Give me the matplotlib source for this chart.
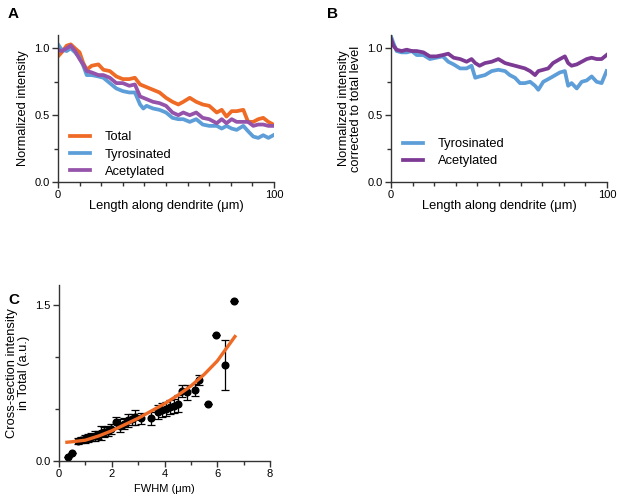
import numpy as np
import matplotlib
matplotlib.use("Agg")
import matplotlib.pyplot as plt
from matplotlib.ticker import MultipleLocator

plt.rcParams['font.family'] = ['Liberation Sans', 'DejaVu Sans']

# panel A: normalized intensity along dendrite
a_x = [0, 1.7, 4, 5.9, 7.9, 10, 11.7, 13.3, 15.6, 18.7, 21, 24, 27, 30, 33, 35.6, 38, 39.5, 41, 44,
       47, 50, 53, 55.7, 58, 61, 64, 67, 70, 73.5, 75.8, 78, 80.4, 82.7, 85.8, 88, 90.4, 92.7, 95,
       97.4, 99.7]
total = [0.94, 0.97, 1.02, 1.03, 1.0, 0.97, 0.89, 0.84, 0.87, 0.88, 0.84, 0.83, 0.79, 0.77, 0.77,
         0.78, 0.73, 0.72, 0.71, 0.69, 0.67, 0.63, 0.60, 0.58, 0.60, 0.63, 0.60, 0.58, 0.57, 0.52,
         0.54, 0.49, 0.53, 0.53, 0.54, 0.45, 0.45, 0.47, 0.48, 0.45, 0.43]
tyro_a = [1.03, 0.99, 0.98, 1.0, 0.97, 0.93, 0.87, 0.80, 0.80, 0.79, 0.78, 0.74, 0.70, 0.68, 0.67,
          0.67, 0.58, 0.55, 0.57, 0.55, 0.54, 0.52, 0.48, 0.47, 0.47, 0.45, 0.47, 0.43, 0.42, 0.42,
          0.40, 0.42, 0.40, 0.39, 0.42, 0.38, 0.34, 0.33, 0.35, 0.33, 0.35]
acet_a = [0.99, 0.98, 1.0, 1.02, 0.98, 0.92, 0.88, 0.83, 0.82, 0.80, 0.80, 0.78, 0.74, 0.74, 0.72,
          0.73, 0.64, 0.63, 0.62, 0.60, 0.59, 0.57, 0.52, 0.50, 0.52, 0.50, 0.52, 0.48, 0.47, 0.44,
          0.47, 0.44, 0.47, 0.45, 0.45, 0.45, 0.42, 0.43, 0.43, 0.42, 0.42]

# panel B: corrected to total level
b_x = [0, 1.1, 2.6, 4.9, 7.3, 9.6, 11.9, 15, 18, 21, 24, 26.5, 29, 32, 35, 37.3, 39, 41, 43.5,
       46.6, 49.7, 52.8, 55, 57.4, 59.7, 62, 64.4, 66.7, 68.2, 70.5, 72.8, 75, 78.2, 80.5, 82,
       83.6, 86, 88.3, 90.6, 92.9, 95.2, 97.5, 99.8]
tyro_b = [1.09, 1.04, 0.98, 0.97, 0.97, 0.98, 0.95, 0.95, 0.92, 0.93, 0.94, 0.90, 0.88, 0.85,
          0.85, 0.87, 0.78, 0.79, 0.80, 0.83, 0.84, 0.83, 0.80, 0.78, 0.74, 0.74, 0.75, 0.72,
          0.69, 0.75, 0.77, 0.79, 0.82, 0.83, 0.72, 0.74, 0.70, 0.75, 0.76, 0.79, 0.75, 0.74, 0.83]
acet_b = [1.07, 1.02, 0.99, 0.98, 0.99, 0.98, 0.98, 0.97, 0.94, 0.94, 0.95, 0.96, 0.93, 0.92,
          0.90, 0.92, 0.89, 0.87, 0.89, 0.90, 0.92, 0.89, 0.88, 0.87, 0.86, 0.85, 0.83, 0.80,
          0.83, 0.84, 0.85, 0.89, 0.92, 0.94, 0.89, 0.87, 0.88, 0.90, 0.92, 0.93, 0.92, 0.92, 0.95]

# panel C: cross-section intensity vs FWHM
c_x = [0.33, 0.49, 0.72, 0.85, 0.98, 1.1, 1.22, 1.35, 1.48, 1.6, 1.72, 1.85, 1.98, 2.15, 2.3,
       2.45, 2.6, 2.75, 2.9, 3.1, 3.5, 3.75, 3.9, 4.05, 4.2, 4.35, 4.5, 4.65, 4.85, 5.15, 5.3,
       5.66, 5.97, 6.31, 6.64]
c_y = [0.04, 0.08, 0.19, 0.20, 0.21, 0.22, 0.23, 0.24, 0.25, 0.27, 0.28, 0.29, 0.31, 0.37, 0.34,
       0.36, 0.39, 0.40, 0.42, 0.41, 0.41, 0.47, 0.49, 0.50, 0.52, 0.53, 0.55, 0.67, 0.66, 0.68,
       0.78, 0.55, 1.21, 0.92, 1.54]
c_err = [0, 0, 0.03, 0.03, 0.04, 0.04, 0.04, 0.05, 0.04, 0.07, 0.05, 0.05, 0.05, 0.05, 0.06,
         0.05, 0.06, 0.05, 0.07, 0.05, 0.06, 0.07, 0.07, 0.07, 0.07, 0.07, 0.08, 0.06, 0.07,
         0.06, 0.05, 0, 0, 0.24, 0]
fit_x = [0.3, 0.5, 1, 1.5, 2, 2.5, 3, 3.5, 4, 4.5, 5, 5.5, 6, 6.67]
fit_y = [0.18, 0.185, 0.20, 0.24, 0.29, 0.35, 0.41, 0.48, 0.55, 0.63, 0.72, 0.83, 0.96, 1.195]

orange = '#ee6a25'
blue = '#5d9ed8'
purple_a = '#9553aa'
purple_b = '#7c3a94'
W, H = 617, 499


def px_axes(fig, l, t, r, b):
    return fig.add_axes([l / W, (H - b) / H, (r - l) / W, (b - t) / H])


def style(ax):
    for s in ['top', 'right']:
        ax.spines[s].set_visible(False)
    for s in ['left', 'bottom']:
        ax.spines[s].set_color('#333333')
        ax.spines[s].set_linewidth(1.0)
    ax.tick_params(which='major', direction='out', length=4, width=1, color='#333333',
                   labelsize=8, pad=2)
    ax.tick_params(which='minor', direction='out', length=3, width=1, color='#333333')


fig = plt.figure(figsize=(W / 100, H / 100), dpi=100)

# A
ax = px_axes(fig, 58, 35, 274, 182)
ax.plot(a_x, total, color=orange, lw=2.7, label='Total')
ax.plot(a_x, tyro_a, color=blue, lw=2.7, label='Tyrosinated')
ax.plot(a_x, acet_a, color=purple_a, lw=2.7, label='Acetylated')
ax.set_xlim(0, 100)
ax.set_ylim(0, 1.1)
ax.set_xticks([0, 100])
ax.xaxis.set_minor_locator(MultipleLocator(10))
ax.set_yticks([0, 0.5, 1.0])
ax.yaxis.set_minor_locator(MultipleLocator(0.25))
ax.set_xlabel('Length along dendrite (μm)', fontsize=9.3, labelpad=0)
ax.set_ylabel('Normalized intensity', fontsize=9.3)
style(ax)
ax.legend(loc='lower left', bbox_to_anchor=(0.0, -0.05), frameon=False, fontsize=9.3,
          handlelength=1.6, handletextpad=1.1, labelspacing=0.4)
fig.text(8 / W, 1 - 14 / H, 'A', fontsize=11, fontweight='bold', va='center')

# B
ax = px_axes(fig, 391, 35, 607, 182)
ax.plot(b_x, tyro_b, color=blue, lw=2.7, label='Tyrosinated')
ax.plot(b_x, acet_b, color=purple_b, lw=2.7, label='Acetylated')
ax.set_xlim(0, 100)
ax.set_ylim(0, 1.1)
ax.set_xticks([0, 100])
ax.xaxis.set_minor_locator(MultipleLocator(10))
ax.set_yticks([0, 0.5, 1.0])
ax.yaxis.set_minor_locator(MultipleLocator(0.25))
ax.set_xlabel('Length along dendrite (μm)', fontsize=9.3, labelpad=0)
ax.set_ylabel('Normalized intensity\ncorrected to total level', fontsize=9.3, linespacing=1.0)
style(ax)
ax.legend(loc='lower left', bbox_to_anchor=(0.0, 0.02), frameon=False, fontsize=9.3,
          handlelength=1.6, handletextpad=1.1, labelspacing=0.4)
fig.text(327 / W, 1 - 14 / H, 'B', fontsize=11, fontweight='bold', va='center')

# C
ax = px_axes(fig, 59, 285, 270, 461)
ax.errorbar(c_x, c_y, yerr=c_err, fmt='o', color='black', ms=4.8, elinewidth=0.9,
            capsize=3, capthick=0.9, zorder=2)
ax.plot(fit_x, fit_y, color=orange, lw=2.4, zorder=3)
ax.set_xlim(0, 8)
ax.set_ylim(0, 1.69)
ax.set_xticks([0, 2, 4, 6, 8])
ax.xaxis.set_minor_locator(MultipleLocator(1))
ax.set_yticks([0, 1.5])
ax.set_yticklabels(['0.0', '1.5'])
ax.yaxis.set_minor_locator(MultipleLocator(0.5))
ax.set_xlabel('FWHM (μm)', fontsize=8, labelpad=3)
ax.set_ylabel('Cross-section intensity\nin Total (a.u.)', fontsize=9.3, linespacing=1.0)
style(ax)
fig.text(8 / W, 1 - 300 / H, 'C', fontsize=11, fontweight='bold', va='center')

fig.savefig('out.png', dpi=100)
